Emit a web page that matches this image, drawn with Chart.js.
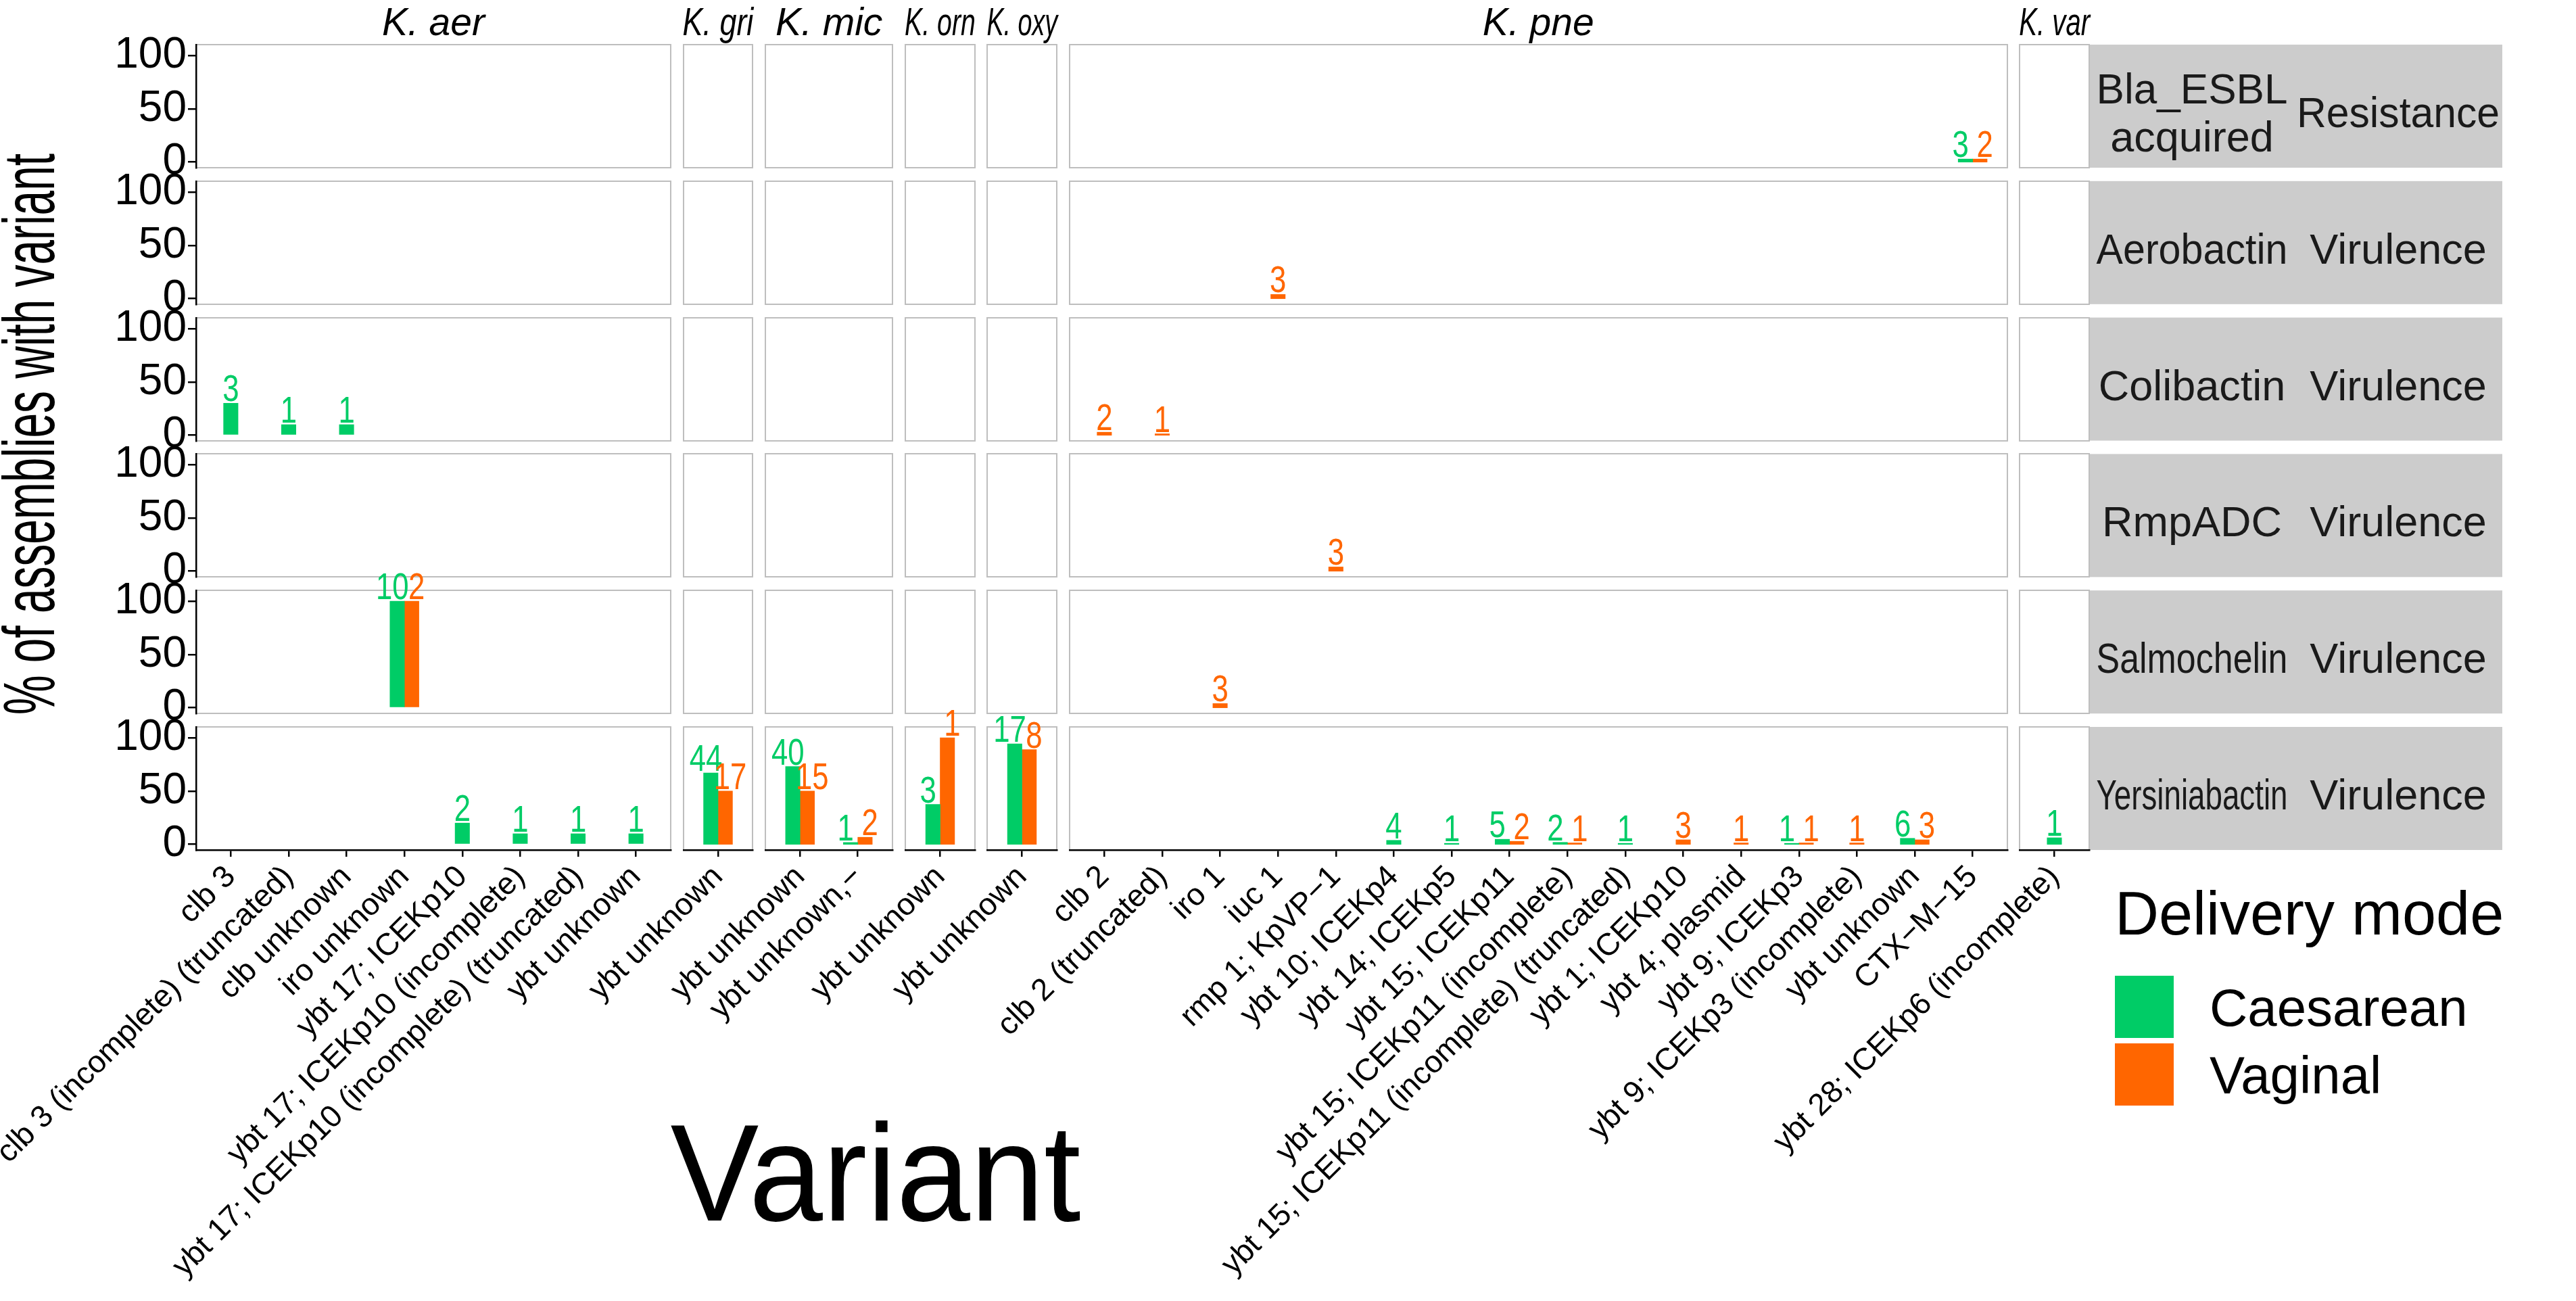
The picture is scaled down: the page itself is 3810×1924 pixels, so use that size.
<!DOCTYPE html>
<html>
<head>
<meta charset="utf-8">
<title>Klebsiella variants by delivery mode</title>
<script src="https://cdn.jsdelivr.net/npm/chart.js@4.4.1/dist/chart.umd.min.js"></script>
<style>
  html, body { margin: 0; padding: 0; background: #fff; }
  #page { position: relative; width: 3810px; height: 1924px; overflow: hidden; background: #fff; }
  #page canvas { position: absolute; }
</style>
</head>
<body>
<div id="page"><canvas id="decor" width="3810" height="1924" style="left:0;top:0"></canvas></div>
<script>
// facet columns (species) and their variants
const species = ["K. aer", "K. gri", "K. mic", "K. orn", "K. oxy", "K. pne", "K. var"];
const aerVariants = ["clb 3", "clb 3 (incomplete) (truncated)", "clb unknown", "iro unknown", "ybt 17; ICEKp10",
    "ybt 17; ICEKp10 (incomplete)", "ybt 17; ICEKp10 (incomplete) (truncated)", "ybt unknown"];
const griVariants = ["ybt unknown"];
const micVariants = ["ybt unknown", "ybt unknown,\u2212"];
const ornVariants = ["ybt unknown"];
const oxyVariants = ["ybt unknown"];
const pneVariants = ["clb 2", "clb 2 (truncated)", "iro 1", "iuc 1", "rmp 1; KpVP\u22121", "ybt 10; ICEKp4", "ybt 14; ICEKp5",
    "ybt 15; ICEKp11", "ybt 15; ICEKp11 (incomplete)", "ybt 15; ICEKp11 (incomplete) (truncated)", "ybt 1; ICEKp10",
    "ybt 4; plasmid", "ybt 9; ICEKp3", "ybt 9; ICEKp3 (incomplete)", "ybt unknown", "CTX\u2212M\u221215"];
const varVariants = ["ybt 28; ICEKp6 (incomplete)"];
const variantLists = [aerVariants, griVariants, micVariants, ornVariants, oxyVariants, pneVariants, varVariants];

// facet rows
const genes = ["Bla_ESBL acquired", "Aerobactin", "Colibactin", "RmpADC", "Salmochelin", "Yersiniabactin"];
const geneClass = ["Resistance", "Virulence", "Virulence", "Virulence", "Virulence", "Virulence"];
const modes = ["Caesarean", "Vaginal"];
const yTicks = [0, 50, 100];

// long-format records: one per bar
const recSpecies = ["K. pne", "K. pne", "K. pne", "K. aer", "K. aer", "K. aer", "K. pne", "K. pne", "K. pne", "K. aer",
    "K. aer", "K. pne", "K. aer", "K. aer", "K. aer", "K. aer", "K. gri", "K. gri", "K. mic", "K. mic",
    "K. mic", "K. mic", "K. orn", "K. orn", "K. oxy", "K. oxy", "K. pne", "K. pne", "K. pne", "K. pne",
    "K. pne", "K. pne", "K. pne", "K. pne", "K. pne", "K. pne", "K. pne", "K. pne", "K. pne", "K. pne",
    "K. var"];
const recGene = ["Bla_ESBL acquired", "Bla_ESBL acquired", "Aerobactin", "Colibactin", "Colibactin", "Colibactin", "Colibactin", "Colibactin", "RmpADC", "Salmochelin",
    "Salmochelin", "Salmochelin", "Yersiniabactin", "Yersiniabactin", "Yersiniabactin", "Yersiniabactin", "Yersiniabactin", "Yersiniabactin", "Yersiniabactin", "Yersiniabactin",
    "Yersiniabactin", "Yersiniabactin", "Yersiniabactin", "Yersiniabactin", "Yersiniabactin", "Yersiniabactin", "Yersiniabactin", "Yersiniabactin", "Yersiniabactin", "Yersiniabactin",
    "Yersiniabactin", "Yersiniabactin", "Yersiniabactin", "Yersiniabactin", "Yersiniabactin", "Yersiniabactin", "Yersiniabactin", "Yersiniabactin", "Yersiniabactin", "Yersiniabactin",
    "Yersiniabactin"];
const recVariant = ["CTX\u2212M\u221215", "CTX\u2212M\u221215", "iuc 1", "clb 3", "clb 3 (incomplete) (truncated)", "clb unknown", "clb 2", "clb 2 (truncated)", "rmp 1; KpVP\u22121", "iro unknown",
    "iro unknown", "iro 1", "ybt 17; ICEKp10", "ybt 17; ICEKp10 (incomplete)", "ybt 17; ICEKp10 (incomplete) (truncated)", "ybt unknown", "ybt unknown", "ybt unknown", "ybt unknown", "ybt unknown",
    "ybt unknown,\u2212", "ybt unknown,\u2212", "ybt unknown", "ybt unknown", "ybt unknown", "ybt unknown", "ybt 10; ICEKp4", "ybt 14; ICEKp5", "ybt 15; ICEKp11", "ybt 15; ICEKp11",
    "ybt 15; ICEKp11 (incomplete)", "ybt 15; ICEKp11 (incomplete)", "ybt 15; ICEKp11 (incomplete) (truncated)", "ybt 1; ICEKp10", "ybt 4; plasmid", "ybt 9; ICEKp3", "ybt 9; ICEKp3", "ybt 9; ICEKp3 (incomplete)", "ybt unknown", "ybt unknown",
    "ybt 28; ICEKp6 (incomplete)"];
const recMode = ["Caesarean", "Vaginal", "Vaginal", "Caesarean", "Caesarean", "Caesarean", "Vaginal", "Vaginal", "Vaginal", "Caesarean",
    "Vaginal", "Vaginal", "Caesarean", "Caesarean", "Caesarean", "Caesarean", "Caesarean", "Vaginal", "Caesarean", "Vaginal",
    "Caesarean", "Vaginal", "Caesarean", "Vaginal", "Caesarean", "Vaginal", "Caesarean", "Caesarean", "Caesarean", "Vaginal",
    "Caesarean", "Vaginal", "Caesarean", "Vaginal", "Vaginal", "Caesarean", "Vaginal", "Vaginal", "Caesarean", "Vaginal",
    "Caesarean"];
const recPercent = [2.9, 2.9, 4.0, 30, 10, 10, 2.9, 1.4, 4.0, 100,
    100, 4.0, 20, 10, 10, 10, 67, 50, 73, 50,
    1.8, 6.7, 37.5, 100, 94.4, 88.9, 3.8, 1.0, 4.8, 2.9,
    1.9, 1.4, 1.0, 4.3, 1.4, 1.0, 1.4, 1.4, 5.7, 4.3,
    6.2];
const recCount = [3, 2, 3, 3, 1, 1, 2, 1, 3, 10,
    2, 3, 2, 1, 1, 1, 44, 17, 40, 15,
    1, 2, 3, 1, 17, 8, 4, 1, 5, 2,
    2, 1, 1, 3, 1, 1, 1, 1, 6, 3,
    1];

// styling / layout
const modeColours = ["#00CC66", "#FF6600"];
const FONT = "'Liberation Sans', Arial, Helvetica, sans-serif";
const U = 85.6, GAP = 18.7, PANEL_LEFT = 290, PANEL_TOP = 66, PANEL_H = 182, ROW_STEP = 201.8;
const PAGE_H = 1924;

const cols = [];
let cx = PANEL_LEFT;
variantLists.forEach(v => {
    const w = (v.length + 0.2) * U;
    cols.push({ x: cx, w: w });
    cx += w + GAP;
});

function lookup(sp, gene, mode, field) {
    return variantLists[sp].map(v => {
        for (let k = 0; k < recVariant.length; k++) {
            if (recSpecies[k] === species[sp] && recGene[k] === gene && recVariant[k] === v && recMode[k] === mode) return field[k];
        }
        return null;
    });
}

const panelBorder = {
    id: 'panelBorder',
    beforeDraw(chart) {
        const a = chart.chartArea, ctx = chart.ctx;
        ctx.save();
        ctx.strokeStyle = '#BEBEBE';
        ctx.lineWidth = 2;
        ctx.strokeRect(a.left, a.top, a.right - a.left, a.bottom - a.top);
        ctx.restore();
    }
};

// count above each bar, dodged wider than the bars themselves
const countLabels = {
    id: 'countLabels',
    afterDatasetsDraw(chart) {
        const ctx = chart.ctx, xs = chart.scales.x;
        chart.data.datasets.forEach((ds, di) => {
            const meta = chart.getDatasetMeta(di);
            const other = chart.data.datasets[1 - di];
            ds.counts.forEach((n, j) => {
                if (n === null) return;
                const paired = other.data[j].y !== null;
                const dx = paired ? (di === 0 ? -1 : 1) * 0.21 * U : 0;
                const px = xs.getPixelForValue(j) + dx;
                const py = meta.data[j].y - 3;
                ctx.save();
                ctx.translate(px, py);
                ctx.scale(0.78, 1);
                ctx.fillStyle = ds.backgroundColor;
                ctx.font = '56px ' + FONT;
                ctx.textAlign = 'center';
                ctx.textBaseline = 'alphabetic';
                ctx.fillText(String(n), 0, 0);
                ctx.restore();
            });
        });
    }
};

function makePanel(c, r) {
    const labels = variantLists[c];
    const col = cols[c];
    const y0 = Math.round(PANEL_TOP + r * ROW_STEP);
    const isLeft = c === 0, isBottom = r === genes.length - 1;
    const x0 = Math.round(col.x), x1 = Math.round(col.x + col.w), y1 = Math.round(PANEL_TOP + r * ROW_STEP + PANEL_H);
    const padTop = 45, padRight = 12;
    const padLeft = isLeft ? 0 : (isBottom ? Math.min(x0, 720) : 12);
    const padBottom = isBottom ? 0 : 30;
    const left = isLeft ? 0 : x0 - padLeft;
    const top = y0 - padTop;
    const bottom = isBottom ? PAGE_H : y1 + padBottom;

    const canvas = document.createElement('canvas');
    canvas.width = x1 + padRight - left;
    canvas.height = bottom - top;
    canvas.style.left = left + 'px';
    canvas.style.top = top + 'px';
    document.getElementById('page').appendChild(canvas);

    const datasets = modes.map((m, i) => {
        const pct = lookup(c, genes[r], m, recPercent);
        return {
            label: m,
            data: pct.map((v, j) => ({ x: j, y: v })),
            counts: lookup(c, genes[r], m, recCount),
            backgroundColor: modeColours[i],
            borderWidth: 0,
            barThickness: 0.25 * U,
            skipNull: true
        };
    });

    new Chart(canvas, {
        type: 'bar',
        data: { datasets: datasets },
        options: {
            responsive: false,
            animation: false,
            devicePixelRatio: 1,
            layout: { padding: { top: padTop, right: padRight, left: padLeft, bottom: padBottom } },
            plugins: { legend: { display: false }, tooltip: { enabled: false } },
            scales: {
                x: {
                    type: 'linear',
                    display: isBottom,
                    min: -0.6,
                    max: labels.length - 0.4,
                    offset: false,
                    afterBuildTicks: s => { s.ticks = labels.map((l, i) => ({ value: i })); },
                    afterFit: s => {
                        if (!isBottom) return;
                        s.height = PAGE_H - y1; s.paddingLeft = 0; s.paddingRight = 0;
                    },
                    ticks: {
                        autoSkip: false,
                        minRotation: 45,
                        maxRotation: 45,
                        padding: 3,
                        color: '#000',
                        font: { family: FONT, size: 46 },
                        callback: v => labels[v]
                    },
                    grid: { offset: false, drawOnChartArea: false, drawTicks: true, tickLength: 10, color: '#000', lineWidth: 2.5 },
                    border: { display: true, color: '#000', width: 2.5 }
                },
                y: {
                    display: isLeft,
                    min: -5.25,
                    max: 110.25,
                    afterBuildTicks: s => { s.ticks = yTicks.map(v => ({ value: v })); },
                    afterFit: s => {
                        if (!isLeft) return;
                        s.width = x0; s.paddingTop = 0; s.paddingBottom = 0;
                    },
                    ticks: { autoSkip: false, padding: 2, color: '#000', font: { family: FONT, size: 64 } },
                    grid: { drawOnChartArea: false, drawTicks: true, tickLength: 12, color: '#000', lineWidth: 2.5 },
                    border: { display: true, color: '#000', width: 2.5 }
                }
            }
        },
        plugins: [panelBorder, countLabels]
    });
}

function drawDecor() {
    const ctx = document.getElementById('decor').getContext('2d');
    ctx.fillStyle = '#fff';
    ctx.fillRect(0, 0, 3810, 1924);

    // species strips
    ctx.fillStyle = '#000';
    ctx.textAlign = 'center';
    ctx.textBaseline = 'alphabetic';
    ctx.font = 'italic 57px ' + FONT;
    species.forEach((s, i) => {
        ctx.fillText(s, cols[i].x + cols[i].w / 2, 52, cols[i].w + 2);
    });

    // row strips
    const stripX = cols[cols.length - 1].x + cols[cols.length - 1].w;
    genes.forEach((g, r) => {
        const y0 = PANEL_TOP + r * ROW_STEP;
        ctx.fillStyle = '#CCCCCC';
        ctx.fillRect(stripX, y0, 3701 - stripX, PANEL_H);
        ctx.fillStyle = '#1A1A1A';
        ctx.font = '63px ' + FONT;
        if (g === 'Bla_ESBL acquired') {
            ctx.fillText('Bla_ESBL', 3242, y0 + 87, 283);
            ctx.fillText('acquired', 3242, y0 + 158, 283);
        } else {
            ctx.fillText(g, 3242, y0 + PANEL_H / 2 + 31, 283);
        }
        ctx.fillText(geneClass[r], 3547, y0 + PANEL_H / 2 + 31, 300);
    });

    // axis titles
    ctx.fillStyle = '#000';
    ctx.save();
    ctx.translate(80, 642);
    ctx.rotate(-Math.PI / 2);
    ctx.font = '108px ' + FONT;
    ctx.fillText('% of assemblies with variant', 0, 0, 830);
    ctx.restore();
    ctx.font = '205px ' + FONT;
    ctx.fillText('Variant', 1295, 1805, 607);

    // legend
    ctx.textAlign = 'left';
    ctx.font = '90px ' + FONT;
    ctx.fillText('Delivery mode', 3128, 1382);
    ctx.font = '78px ' + FONT;
    modes.forEach((m, i) => {
        ctx.fillStyle = modeColours[i];
        ctx.fillRect(3128, 1443 + i * 100, 87, 92);
        ctx.fillStyle = '#000';
        ctx.fillText(m, 3268, 1517 + i * 100);
    });
}

drawDecor();
for (let r = 0; r < genes.length; r++) {
    for (let c = 0; c < species.length; c++) makePanel(c, r);
}
</script>
</body>
</html>
